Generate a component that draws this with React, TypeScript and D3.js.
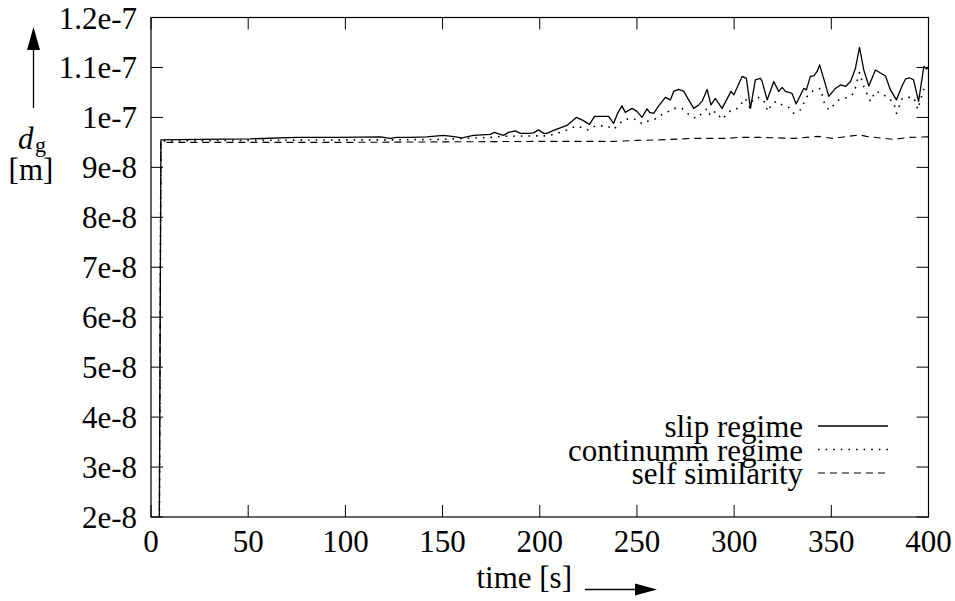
import React from "react";
import * as d3 from "d3";

// Grain diameter over time, three model variants. Values in metres, time in seconds.
const slipTime = [4.1, 5.1, 25, 51, 75, 97, 118, 123, 126.5, 133.3, 141.9, 150.5, 154.8, 160, 165.9, 174.5, 176.7, 178.8, 181.4, 183.9, 187.4, 190, 194.2, 196.8, 199.4, 202, 203.7, 207.1, 214, 218.8, 222.2, 225.6, 228.2, 235.4, 238, 240, 242.3, 244, 247.5, 250, 252.6, 255.2, 256.5, 258.6, 261.2, 264.6, 267.2, 268.9, 271.5, 274.1, 276.6, 279.2, 281.8, 283.5, 286.1, 288.1, 290.3, 293.8, 298.4, 299.8, 304.1, 306.3, 308.4, 310.9, 313.5, 314.4, 317, 320.4, 322.9, 324.7, 326.4, 329.8, 331.9, 335.8, 337.2, 339.2, 341, 342.7, 344, 346.5, 348.7, 352.1, 354.7, 357.3, 359.9, 362.4, 364.5, 366.7, 369.3, 372.7, 375.3, 377.9, 380.4, 383.5, 386.6, 388.2, 390.5, 392.3, 394.9, 397.6, 399, 400];
const slipDiam = [0, 9.55e-8, 9.56e-8, 9.57e-8, 9.6e-8, 9.6e-8, 9.61e-8, 9.58e-8, 9.6e-8, 9.6e-8, 9.61e-8, 9.64e-8, 9.62e-8, 9.59e-8, 9.64e-8, 9.66e-8, 9.7e-8, 9.67e-8, 9.64e-8, 9.7e-8, 9.73e-8, 9.68e-8, 9.68e-8, 9.69e-8, 9.75e-8, 9.68e-8, 9.68e-8, 9.74e-8, 9.84e-8, 1.0e-7, 9.94e-8, 9.86e-8, 1.002e-7, 1.002e-7, 9.88e-8, 1.008e-7, 1.023e-7, 1.01e-7, 1.018e-7, 1.012e-7, 1.0e-7, 1.017e-7, 1.01e-7, 1.008e-7, 1.023e-7, 1.04e-7, 1.035e-7, 1.052e-7, 1.056e-7, 1.052e-7, 1.035e-7, 1.018e-7, 1.025e-7, 1.032e-7, 1.056e-7, 1.025e-7, 1.038e-7, 1.018e-7, 1.052e-7, 1.045e-7, 1.082e-7, 1.078e-7, 1.018e-7, 1.075e-7, 1.078e-7, 1.072e-7, 1.035e-7, 1.072e-7, 1.052e-7, 1.06e-7, 1.052e-7, 1.048e-7, 1.027e-7, 1.058e-7, 1.055e-7, 1.082e-7, 1.083e-7, 1.092e-7, 1.105e-7, 1.072e-7, 1.042e-7, 1.058e-7, 1.065e-7, 1.062e-7, 1.072e-7, 1.098e-7, 1.14e-7, 1.095e-7, 1.063e-7, 1.095e-7, 1.089e-7, 1.083e-7, 1.055e-7, 1.035e-7, 1.065e-7, 1.077e-7, 1.079e-7, 1.075e-7, 1.032e-7, 1.102e-7, 1.097e-7, 1.101e-7];

const contTime = [4.1, 5.1, 50, 100, 125, 150, 162, 175, 180, 197, 204, 209, 214, 219, 225, 228.6, 234.6, 238, 243.1, 246.6, 250, 252.6, 255.2, 258.6, 262.5, 266.3, 268.9, 273.2, 277.5, 280.6, 283.5, 286.1, 287.8, 290.3, 293.8, 296.4, 298.9, 301.8, 305.8, 308, 309.7, 312.6, 315.2, 317.3, 319.5, 322.1, 324.7, 328.1, 330.7, 334.1, 337.6, 341, 344.4, 346.5, 348.7, 351.3, 353.9, 358.2, 361.6, 364.5, 366.7, 370.1, 372.7, 376.2, 378.7, 382.1, 383.5, 386.5, 389, 392.4, 394.5, 397.6, 400];
const contDiam = [0, 9.53e-8, 9.54e-8, 9.55e-8, 9.55e-8, 9.56e-8, 9.58e-8, 9.6e-8, 9.62e-8, 9.63e-8, 9.63e-8, 9.68e-8, 9.75e-8, 9.83e-8, 9.75e-8, 9.83e-8, 9.83e-8, 9.76e-8, 9.95e-8, 9.98e-8, 9.95e-8, 9.87e-8, 9.92e-8, 9.95e-8, 1.005e-7, 1.012e-7, 1.018e-7, 1.018e-7, 1.003e-7, 9.98e-8, 1.008e-7, 1.018e-7, 1.003e-7, 1.012e-7, 9.96e-8, 1.007e-7, 1.016e-7, 1.018e-7, 1.038e-7, 1.02e-7, 1.036e-7, 1.04e-7, 1.035e-7, 1.012e-7, 1.028e-7, 1.032e-7, 1.025e-7, 1.02e-7, 1.008e-7, 1.015e-7, 1.042e-7, 1.055e-7, 1.058e-7, 1.028e-7, 1.015e-7, 1.025e-7, 1.035e-7, 1.04e-7, 1.048e-7, 1.09e-7, 1.062e-7, 1.032e-7, 1.052e-7, 1.048e-7, 1.04e-7, 1.03e-7, 1.008e-7, 1.038e-7, 1.04e-7, 1.04e-7, 1.016e-7, 1.058e-7, 1.062e-7];

const selfTime = [4.1, 5.1, 50, 100, 150, 200, 238, 250, 262, 279, 296, 303, 313, 331, 343, 351, 364.5, 368, 382, 390, 400];
const selfDiam = [0, 9.5e-8, 9.5e-8, 9.5e-8, 9.51e-8, 9.52e-8, 9.52e-8, 9.54e-8, 9.55e-8, 9.58e-8, 9.58e-8, 9.6e-8, 9.6e-8, 9.58e-8, 9.62e-8, 9.58e-8, 9.65e-8, 9.62e-8, 9.56e-8, 9.6e-8, 9.61e-8];

const seriesNames = ["slip regime", "continumm regime", "self similarity"];

const xTicks = [0, 50, 100, 150, 200, 250, 300, 350, 400];
const yTicks = [2e-8, 3e-8, 4e-8, 5e-8, 6e-8, 7e-8, 8e-8, 9e-8, 1e-7, 1.1e-7, 1.2e-7];
const yTickLabels = ["2e-8", "3e-8", "4e-8", "5e-8", "6e-8", "7e-8", "8e-8", "9e-8", "1e-7", "1.1e-7", "1.2e-7"];

const W = 955;
const H = 601;
const left = 151;
const right = 928.5;
const top = 17.5;
const bottom = 517;
const FONT = "'Liberation Serif', 'Times New Roman', Times, 'DejaVu Serif', serif";
const FS = 31;
const TICK = 12;

export default function App() {
  const x = d3.scaleLinear().domain([0, 400]).range([left, right]);
  const y = d3.scaleLinear().domain([2e-8, 1.2e-7]).range([bottom, top]);

  const line = d3
    .line<[number, number]>()
    .x((d) => x(d[0]))
    .y((d) => y(d[1]));

  const zip = (t: number[], v: number[]) => t.map((ti, i) => [ti, v[i]] as [number, number]);

  const series = [
    { name: seriesNames[0], pts: zip(slipTime, slipDiam), dash: undefined, width: 1.3 },
    { name: seriesNames[1], pts: zip(contTime, contDiam), dash: "1.6,6", width: 1.6 },
    { name: seriesNames[2], pts: zip(selfTime, selfDiam), dash: "7,5", width: 1.1 },
  ];

  const legendX = 803;
  const legendY0 = 426;
  const legendStep = 23.5;
  const txt = { fontFamily: FONT } as React.CSSProperties;

  return (
    <svg
      width={W}
      height={H}
      style={{ position: "absolute", left: 0, top: 0, background: "#fff", fontFamily: FONT }}
    >
      <defs>
        <clipPath id="plot-area">
          <rect x={left} y={top} width={right - left} height={bottom - top} />
        </clipPath>
      </defs>
      <rect width={W} height={H} fill="#fff" />

      {/* ticks on all four sides, pointing inward */}
      <g stroke="#000" strokeWidth={1}>
        {xTicks.map((t) => (
          <g key={"xt" + t}>
            <line x1={x(t)} x2={x(t)} y1={bottom} y2={bottom - TICK} />
            <line x1={x(t)} x2={x(t)} y1={top} y2={top + TICK} />
          </g>
        ))}
        {yTicks.map((v) => (
          <g key={"yt" + v}>
            <line x1={left} x2={left + TICK} y1={y(v)} y2={y(v)} />
            <line x1={right} x2={right - TICK} y1={y(v)} y2={y(v)} />
          </g>
        ))}
      </g>

      {/* data */}
      <g clipPath="url(#plot-area)" fill="none" stroke="#000">
        {series.map((s) => (
          <path
            key={s.name}
            d={line(s.pts) || ""}
            strokeWidth={s.width}
            strokeDasharray={s.dash}
            strokeLinejoin="round"
          />
        ))}
      </g>

      <rect
        x={left}
        y={top}
        width={right - left}
        height={bottom - top}
        fill="none"
        stroke="#000"
        strokeWidth={1.2}
      />

      {/* tick labels */}
      <g fontSize={FS} fill="#000" style={txt}>
        {xTicks.map((t) => (
          <text key={"xl" + t} x={x(t)} y={552} textAnchor="middle" style={txt}>
            {t}
          </text>
        ))}
        {yTicks.map((v, i) => (
          <text key={"yl" + v} x={137} y={y(v) + 11} textAnchor="end" style={txt}>
            {yTickLabels[i]}
          </text>
        ))}
      </g>

      {/* axis titles with arrows */}
      <text x={572} y={588} fontSize={FS} textAnchor="end" style={txt}>
        time [s]
      </text>
      <line x1={585} x2={640} y1={589.5} y2={589.5} stroke="#000" strokeWidth={1.3} />
      <path d="M 635 583.5 L 657 589.5 L 635 595.5 Z" fill="#000" />

      <line x1={33.5} x2={33.5} y1={108} y2={45} stroke="#000" strokeWidth={1.3} />
      <path d="M 27 50 L 33.5 27 L 40 50 Z" fill="#000" />
      <text x={18} y={149} fontSize={FS} fontStyle="italic" style={txt}>
        d
      </text>
      <text x={35} y={152} fontSize={22} style={txt}>
        g
      </text>
      <text x={31} y={180} fontSize={FS} textAnchor="middle" style={txt}>
        [m]
      </text>

      {/* legend */}
      {series.map((s, i) => (
        <g key={"lg" + s.name}>
          <text
            x={legendX}
            y={legendY0 + i * legendStep + 11}
            fontSize={FS}
            textAnchor="end"
            style={txt}
          >
            {s.name}
          </text>
          <line
            x1={818}
            x2={888}
            y1={legendY0 + i * legendStep}
            y2={legendY0 + i * legendStep}
            stroke="#000"
            strokeWidth={s.width}
            strokeDasharray={s.dash}
          />
        </g>
      ))}
    </svg>
  );
}
